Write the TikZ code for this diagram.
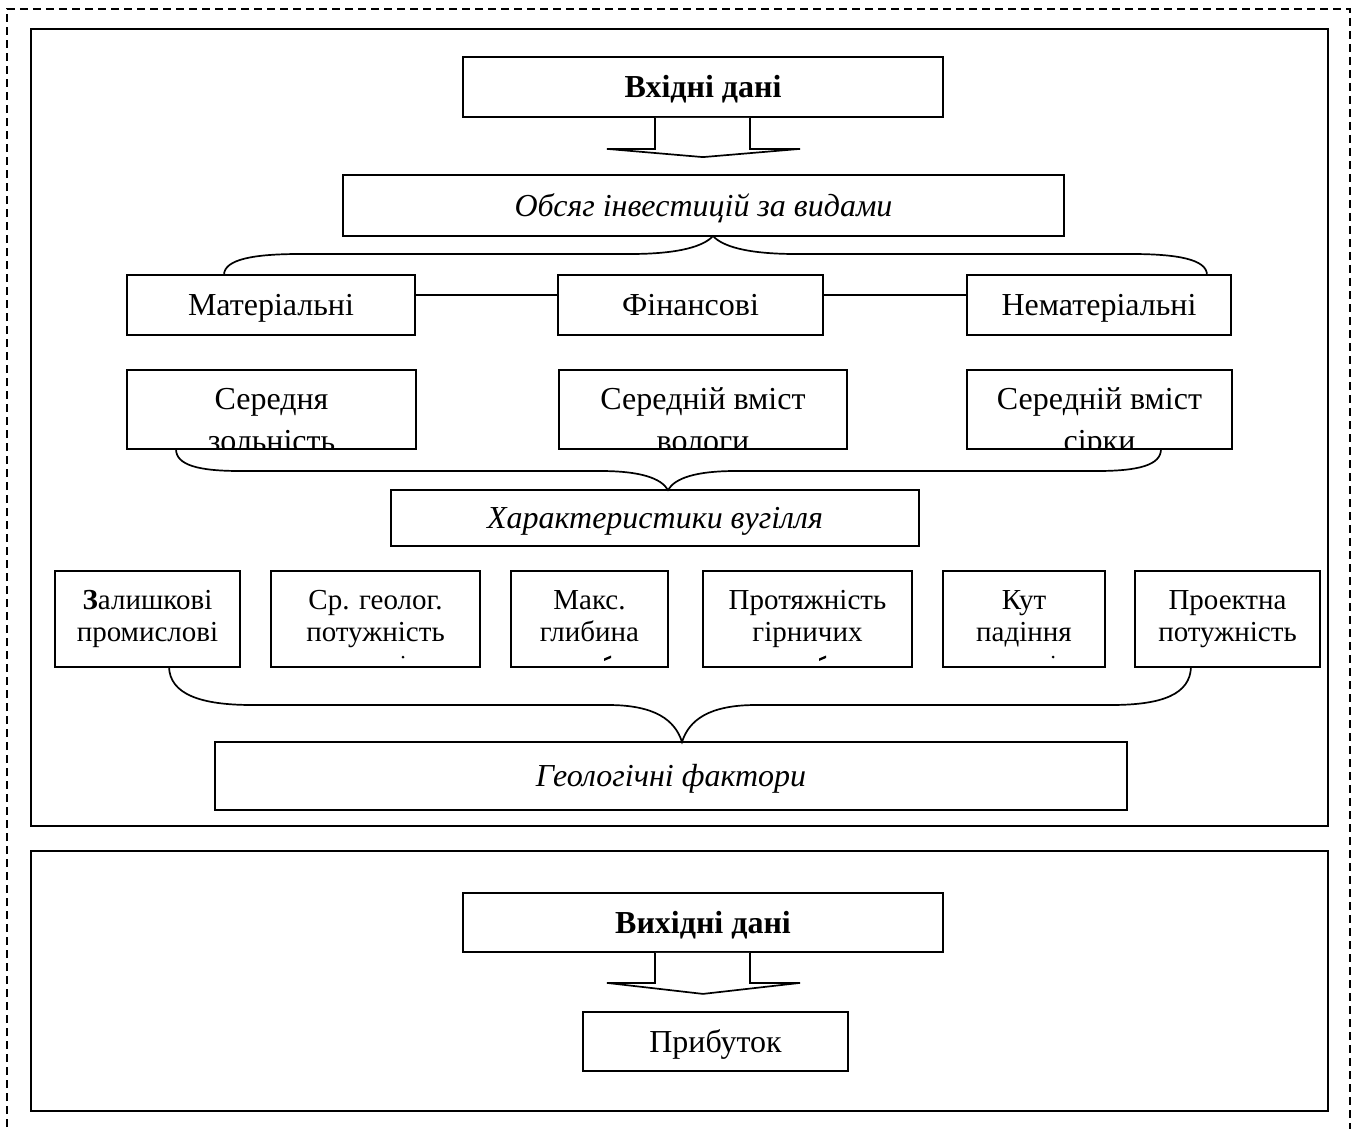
\documentclass[tikz,border=0pt]{standalone}
\usepackage{fontspec}
\setmainfont{Liberation Serif}
\usetikzlibrary{calc}
\begin{document}
\begin{tikzpicture}[x=1pt,y=-1pt,
  box/.style={draw, line width=1.8pt, inner sep=0pt, align=center,
    text height=21.5pt, text depth=0pt, font=\fontsize{32}{37}\selectfont},
  frame/.style={draw, line width=2.2pt},
  border/.style={draw, line width=1.8pt, dash pattern=on 8pt off 5pt},
  link/.style={draw, line width=1.7pt},
  brace/.style={draw, line width=1.7pt},
  big/.style={font=\fontsize{32}{37}\selectfont, inner sep=0pt},
  small/.style={font=\fontsize{29}{32}\selectfont, inner sep=0pt},
  blockarrow/.style={draw, line width=1.7pt, fill=white}]
\useasboundingbox (0,0) rectangle (1354,1129);

% dashed outer border, open at the bottom
\draw[border] (7,1140) -- (7,9) -- (1350,9) -- (1350,1140);

% two solid frames
\draw[frame] (31,29) rectangle (1328,826);
\draw[frame] (31,851) rectangle (1328,1111);

% ---------- input part ----------
\node[box, minimum width=480, minimum height=60] (in) at (703,87) {\textbf{Вхідні дані}};
\node[box, minimum width=721, minimum height=61] (obs) at (703.5,205.5) {\textit{Обсяг інвестицій за видами}};

\draw[blockarrow] ($(in.south)+(-48,0)$) -- ($(in.south)+(-48,31)$) -- ($(in.south)+(-96,31)$)
  -- ($(obs.north)+(-0.5,-17)$) -- ($(in.south)+(97,31)$) -- ($(in.south)+(47,31)$) -- ($(in.south)+(47,0)$);

% kinds of investment
\node[box, minimum width=288, minimum height=60] (mat) at (271,305) {Матеріальні};
\node[box, minimum width=265, minimum height=60] (fin) at (690.5,305) {Фінансові};
\node[box, minimum width=264, minimum height=60] (nemat) at (1099,305) {Нематеріальні};
\draw[link] ($(mat.east)+(0,-10)$) -- ($(fin.west)+(0,-10)$);
\draw[link] ($(fin.east)+(0,-10)$) -- ($(nemat.west)+(0,-10)$);

% brace from the three kinds up to the investment box
\coordinate (b1l) at (224,275);
\coordinate (b1c) at (713,236);
\coordinate (b1r) at (1207,275);
\draw[brace] (b1l) .. controls (224,259) and (255,254) .. (300,254) -- (630,254)
  .. controls (680,254) and (704,246) .. (b1c)
  .. controls (722,246) and (746,254) .. (796,254) -- (1131,254)
  .. controls (1176,254) and (1207,259) .. (b1r);

% coal characteristics (text partly hidden by the box edge)
\node[box, minimum width=289, minimum height=79] (zol) at (271.5,409.5) {};
\node[box, minimum width=288, minimum height=79] (vol) at (703,409.5) {};
\node[box, minimum width=265, minimum height=79] (sirk) at (1099.5,409.5) {};
\foreach \n/\a/\b in {zol/Середня/зольність, vol/Середній вміст/вологи, sirk/Середній вміст/сірки}{
  \begin{scope}
    \clip ($(\n.south west)+(1,-1)$) rectangle ($(\n.north east)+(-1,1)$);
    \node[big, anchor=base] (\n-a) at ($(\n.north)+(0,40)$) {\a};
    \node[big, anchor=base] (\n-b) at ($(\n.north)+(0,82)$) {\b};
  \end{scope}
}

\node[box, minimum width=528, minimum height=56] (char) at (655,518) {\textit{Характеристики вугілля}};

\coordinate (b2l) at (176,449);
\coordinate (b2c) at (668,490);
\coordinate (b2r) at (1161,449);
\draw[brace] (b2l) .. controls (176,465) and (198,471) .. (240,471) -- (600,471)
  .. controls (640,471) and (661,478) .. (b2c)
  .. controls (675,478) and (696,471) .. (736,471) -- (1097,471)
  .. controls (1139,471) and (1161,465) .. (b2r);

% geological factors
\node[box, minimum width=185, minimum height=96] (g1) at (147.5,619) {};
\node[box, minimum width=209, minimum height=96] (g2) at (375.5,619) {};
\node[box, minimum width=157, minimum height=96] (g3) at (589.5,619) {};
\node[box, minimum width=209, minimum height=96] (g4) at (807.5,619) {};
\node[box, minimum width=162, minimum height=96] (g5) at (1024,619) {};
\node[box, minimum width=185, minimum height=96] (g6) at (1227.5,619) {};
\foreach \n/\a/\b in {g1/{\textbf{З}алишкові}/промислові, g2/Ср. геолог./потужність,
    g3/Макс./глибина, g4/Протяжність/гірничих, g5/Кут/падіння, g6/Проектна/потужність}{
  \node[small, anchor=base] (\n-a) at ($(\n.north)+(0,39)$) {\a};
  \node[small, anchor=base] (\n-b) at ($(\n.north)+(0,71)$) {\b};
}
% tips of a third line showing above the lower edge
\fill (403,657) circle (1.5);
\fill (1053,657) circle (1.5);
\fill (604,658.5) -- (611,655.5) -- (611,658) -- (604,661) -- cycle;
\fill (819,658.5) -- (826,655.5) -- (826,658) -- (819,661) -- cycle;

\node[box, minimum width=912, minimum height=68] (geo) at (671,776) {\textit{Геологічні фактори}};

\coordinate (b3l) at (169,667);
\coordinate (b3c) at (682,742);
\coordinate (b3r) at (1191,667);
\draw[brace] (b3l) .. controls (170,694) and (200,705) .. (252,705) -- (608,705)
  .. controls (655,705) and (675,720) .. (b3c)
  .. controls (689,720) and (709,705) .. (756,705) -- (1111,705)
  .. controls (1163,705) and (1190,694) .. (b3r);

% ---------- output part ----------
\node[box, minimum width=480, minimum height=59] (out) at (703,922.5) {\textbf{Вихідні дані}};
\node[box, minimum width=265, minimum height=59] (prib) at (715.5,1041.5) {Прибуток};

\draw[blockarrow] ($(out.south)+(-48,0)$) -- ($(out.south)+(-48,30)$) -- ($(out.south)+(-96,30)$)
  -- ($(out.south)+(0,41)$) -- ($(out.south)+(97,30)$) -- ($(out.south)+(47,30)$) -- ($(out.south)+(47,0)$);
\end{tikzpicture}
\end{document}
